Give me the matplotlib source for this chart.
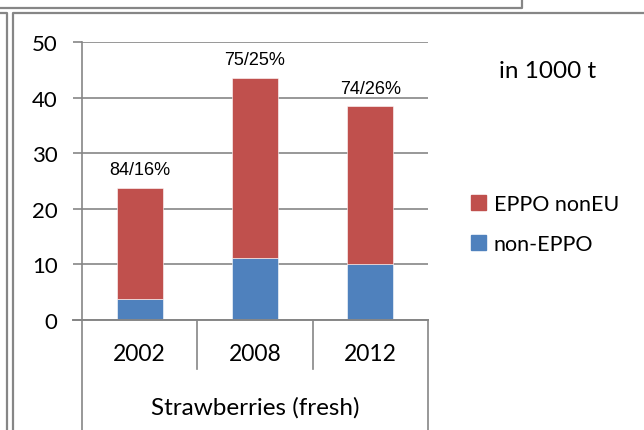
import matplotlib.pyplot as plt
from matplotlib.lines import Line2D
from matplotlib.patches import Patch

# values (in 1000 t)
years = ['2002', '2008', '2012']
non_eppo = [3.8, 11.1, 10.0]
eppo_noneu = [20.0, 32.5, 28.4]
share_labels = ['84/16%', '75/25%', '74/26%']
group_label = 'Strawberries (fresh)'
y_ticks = [0, 10, 20, 30, 40, 50]

red = '#C0504D'
blue = '#4F81BD'
grey = '#868686'
W, H = 644, 431

fig = plt.figure(figsize=(W / 100, H / 100), dpi=100)
ax = fig.add_axes([82 / W, 1 - 320.7 / H, (428 - 82) / W, (320.7 - 43) / H])

x = range(len(years))
ax.bar(x, non_eppo, width=0.4, color=blue, edgecolor='white', linewidth=0.4, zorder=3)
ax.bar(x, eppo_noneu, width=0.4, bottom=non_eppo, color=red,
       edgecolor='white', linewidth=0.4, zorder=3)

for i, lab in enumerate(share_labels):
    top = non_eppo[i] + eppo_noneu[i]
    ax.annotate(lab, (i, top), xytext=(0, 7), textcoords='offset points',
                ha='center', va='bottom', fontsize=13,
                family='Liberation Sans')

ax.set_xlim(-0.5, 2.5)
ax.set_ylim(0, 50)
ax.set_yticks(y_ticks)
ax.set_yticklabels([str(t) for t in y_ticks], family='Lato', fontsize=16)
ax.tick_params(axis='y', length=6.5, width=1.2, color=grey, pad=11)
ax.set_xticks([])
ax.grid(axis='y', color=grey, linewidth=1.2, zorder=0)
for s in ['top', 'right', 'bottom']:
    ax.spines[s].set_visible(False)
ax.spines['left'].set_color(grey)
ax.spines['left'].set_linewidth(1.2)

# category axis drawn like Excel's multi-level labels
tr = ax.get_xaxis_transform()
ax.plot([-0.5 - 9 / 115.3, 2.5], [0, 0], color=grey, lw=1.4, transform=tr, clip_on=False, zorder=4)
ax.plot([-0.5, -0.5], [0, -0.4], color=grey, lw=1.2, transform=tr, clip_on=False)
ax.plot([2.5, 2.5], [0, -0.4], color=grey, lw=1.2, transform=tr, clip_on=False)
for b in [0.5, 1.5]:
    ax.plot([b, b], [0, -0.177], color=grey, lw=1.2, transform=tr, clip_on=False)
for i, yr in enumerate(years):
    ax.text(i, -0.1235, yr, transform=tr, ha='center', va='center',
            family='Lato', fontsize=16.5)
ax.text(1, -0.314, group_label, transform=tr, ha='center', va='center',
        family='Lato', fontsize=17.5)

fig.text(499 / W, 1 - 71 / H, 'in 1000 t', ha='left', va='center',
         family='Lato', fontsize=17.5)

handles = [Patch(color=red), Patch(color=blue)]
fig.legend(handles, ['EPPO nonEU', 'non-EPPO'], loc='center left',
           bbox_to_anchor=(471 / W, 1 - 225 / H), frameon=False,
           borderpad=0, borderaxespad=0, handlelength=0.7, handleheight=0.7,
           handletextpad=0.35, labelspacing=0.9,
           prop={'family': 'Lato', 'size': 15.5})

# surrounding chart borders
def border(xs, ys):
    fig.add_artist(Line2D([v / W for v in xs], [1 - v / H for v in ys],
                          color=grey, lw=1.6, transform=fig.transFigure))

border([0, 522, 522], [8.5, 8.5, 0])
border([0, 7, 7], [14, 14, H])
border([W, 13, 13], [14, 14, H])

fig.savefig('out.png', dpi=100)
